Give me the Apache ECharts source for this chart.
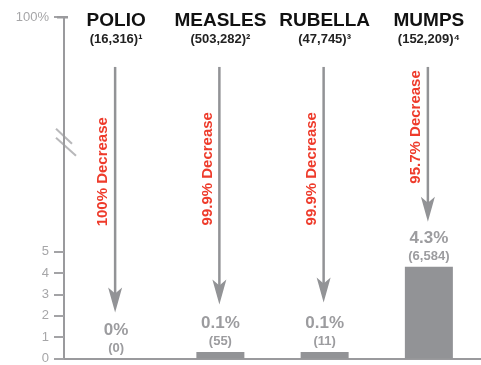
<!DOCTYPE html>
<html>
<head>
<meta charset="utf-8">
<script src="https://cdn.jsdelivr.net/npm/echarts@6/dist/echarts.min.js"></script>
<style>
	html, body { margin: 0; padding: 0; background: #fff; }
	#main { width: 481px; height: 365px; }
</style>
</head>
<body>
<div id="main"></div>
<script>
// 疾病名称和病例数（顶部标题）
const diseases = ['POLIO', 'MEASLES', 'RUBELLA', 'MUMPS'];
const peakCases = ['(16,316)¹', '(503,282)²', '(47,745)³', '(152,209)⁴'];
// 柱高（读图，单位为纵轴刻度）
const barHeights = [0, 0.3, 0.3, 4.3];
const pctLabels = ['0%', '0.1%', '0.1%', '4.3%'];
const countLabels = ['(0)', '(55)', '(11)', '(6,584)'];
// 箭头：起点、终点、红字中心（纵轴单位）
const arrowTop = [13.66, 13.66, 13.66, 13.66];
const arrowTip = [2.15, 2.53, 2.62, 6.41];
const decreaseLabels = ['100% Decrease', '99.9% Decrease', '99.9% Decrease', '95.7% Decrease'];
const decreaseMid = [8.75, 8.89, 8.89, 10.85];
// 纵轴刻度：0-5，顶部 16 代表 100%
const yTicks = [0, 1, 2, 3, 4, 5, 16];
const yTopValue = 16;
const breakAt = 10.2;

const FONT = '"Liberation Sans", Arial, sans-serif';
const GRAY = '#929396';
const TICK = '#a3a3a6';

const chart = echarts.init(document.getElementById('main'));

const option = {
	animation: false,
	textStyle: { fontFamily: FONT },
	grid: { left: 64, right: 0, top: 17, bottom: 6 },
	xAxis: [
		{
			type: 'category',
			data: diseases,
			axisLine: { show: true, lineStyle: { color: '#9a9a9d', width: 2 } },
			axisTick: { show: false },
			axisLabel: { show: false }
		},
		{
			type: 'category',
			position: 'top',
			offset: -30,
			data: diseases,
			axisLine: { show: false },
			axisTick: { show: false },
			axisLabel: {
				margin: 0,
				fontWeight: 'bold',
				formatter: (v, i) => '{n|' + v + '}\n{c|' + peakCases[i] + '}',
				rich: {
					n: { fontSize: 19, fontWeight: 'bold', color: '#111', lineHeight: 21, fontFamily: FONT },
					c: { fontSize: 13, fontWeight: 'bold', color: '#222', lineHeight: 16, fontFamily: FONT }
				}
			}
		}
	],
	yAxis: {
		type: 'value',
		min: 0,
		max: yTopValue,
		axisLine: { show: true, lineStyle: { color: '#9a9a9d', width: 2 } },
		axisTick: { show: true, customValues: yTicks, length: 10, lineStyle: { color: TICK, width: 2 } },
		axisLabel: {
			customValues: yTicks,
			margin: 15,
			color: '#a6a6a8',
			fontSize: 13,
			formatter: v => (v === yTopValue ? '100%' : String(v))
		},
		splitLine: { show: false }
	},
	series: [
		{
			type: 'bar',
			data: barHeights,
			barWidth: 48,
			itemStyle: { color: GRAY },
			label: {
				show: true,
				position: 'top',
				distance: 2,
				fontWeight: 'bold',
				color: '#9c9c9f',
				formatter: p => '{p|' + pctLabels[p.dataIndex] + '}\n{c|' + countLabels[p.dataIndex] + '}',
				rich: {
					p: { fontSize: 17, fontWeight: 'bold', color: '#9c9c9f', lineHeight: 19, fontFamily: FONT },
					c: { fontSize: 13, fontWeight: 'bold', color: '#9c9c9f', lineHeight: 17, fontFamily: FONT }
				}
			}
		},
		{
			// 下降箭头和红色文字
			type: 'custom',
			silent: true,
			data: diseases.map((d, i) => [i, arrowTop[i], arrowTip[i], decreaseMid[i]]),
			renderItem: (params, api) => {
				const i = params.dataIndex;
				const top = api.coord([api.value(0), api.value(1)]);
				const tip = api.coord([api.value(0), api.value(2)]);
				const mid = api.coord([api.value(0), api.value(3)]);
				const x = top[0] - 1;
				return {
					type: 'group',
					children: [
						{
							type: 'line',
							shape: { x1: x, y1: top[1], x2: x, y2: tip[1] - 18 },
							style: { stroke: GRAY, lineWidth: 2.5 }
						},
						{
							type: 'polygon',
							shape: { points: [[x, tip[1]], [x - 7, tip[1] - 25], [x, tip[1] - 19], [x + 7, tip[1] - 25]] },
							style: { fill: GRAY }
						},
						{
							type: 'text',
							x: x - 12,
							y: mid[1],
							rotation: Math.PI / 2,
							style: {
								text: decreaseLabels[i],
								align: 'center',
								verticalAlign: 'middle',
								fill: '#ee3b2b',
								font: 'bold 15px ' + FONT
							}
						}
					]
				};
			}
		}
	]
};

chart.setOption(option);

// 纵轴断裂符号 // 和顶部 100% 刻度
const by = chart.convertToPixel({ yAxisIndex: 0 }, breakAt);
let ty = chart.convertToPixel({ yAxisIndex: 0 }, yTopValue);
if (!isFinite(ty)) ty = 17;
const ax = 65;
chart.setOption({
	graphic: [
		{ type: 'line', shape: { x1: ax - 9, y1: by - 12, x2: ax + 7, y2: by + 3 }, style: { stroke: '#b8b8ba', lineWidth: 2 } },
		{ type: 'line', shape: { x1: ax - 9, y1: by - 3, x2: ax + 11, y2: by + 15 }, style: { stroke: '#b8b8ba', lineWidth: 2 } },
		{ type: 'rect', z: 100, shape: { x: ax - 8, y: ty - 1, width: 11, height: 2.5 }, style: { fill: '#9a9a9d' } }
	]
});
</script>
</body>
</html>
